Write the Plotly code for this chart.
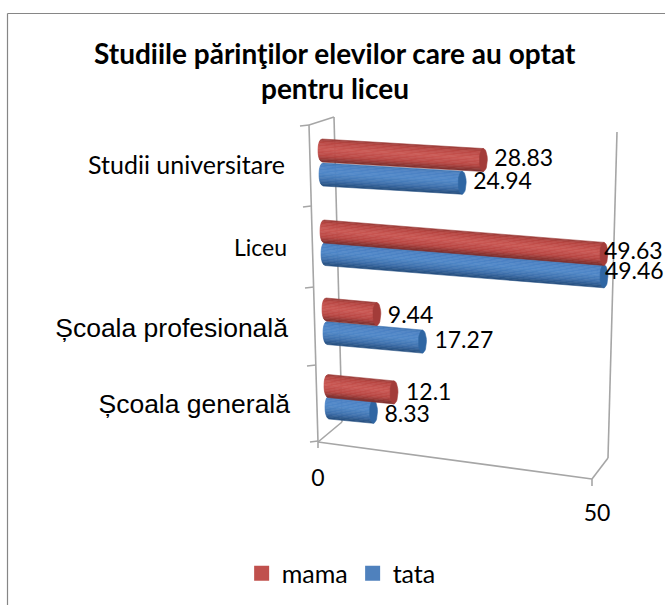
import math
import plotly.graph_objects as go

# --- data ---
categories = ["Studii universitare", "Liceu", "Școala profesională", "Școala generală"]
mama = [28.83, 49.63, 9.44, 12.1]
tata = [24.94, 49.46, 17.27, 8.33]
value_ticks = [0, 50]
title_lines = ["Studiile părinţilor elevilor care au optat", "pentru liceu"]

# --- perspective geometry (pixels of the picture) ---
W, H = 665, 605
X0, K = 318.0, 5.7             # pixel of value 0, pixels per value unit
FLOOR_K = 5.58                 # pixels per value unit along the tick labels
SLOPE = [0.059, 0.080, 0.090, 0.097]
START = {"mama": [318, 320, 322, 324], "tata": [319, 321, 323, 325]}
CY = {"mama": [150.5, 231.5, 309.5, 386.0], "tata": [174.5, 254.0, 333.0, 407.5]}
LABEL_DX = {"mama": [7, -4, 7, 8], "tata": [7, -3, 8, 7]}
LABEL_DY = {"mama": [0, -1, 2, 1], "tata": [0, -4, 0, 4]}
R, A = 11.5, 4.0               # cylinder half height, end-ellipse half width

# shading across the cylinder: position (-1 top .. 1 bottom) -> colour
SHADE = {
    "mama": [(-1, (150, 60, 56)), (-0.7, (184, 70, 66)), (-0.1, (202, 88, 84)),
             (0.5, (184, 70, 66)), (1, (122, 46, 44))],
    "tata": [(-1, (66, 118, 178)), (-0.7, (76, 130, 196)), (-0.1, (80, 136, 200)),
             (0.5, (62, 112, 172)), (1, (36, 76, 124))],
}
N_BANDS = 16
CAP = {"mama": "#a33c39", "tata": "#2f66a3"}
SWATCH = {"mama": "#c0504d", "tata": "#4f81bd"}
AXIS_COL, BORDER_COL = "#a6a6a6", "#868686"
CALIBRI, ARIAL = "Lato", "Liberation Sans"


def to_x(px):
    return (px - X0) / K


def shade(series, t):
    stops = SHADE[series]
    for (t0, c0), (t1, c1) in zip(stops, stops[1:]):
        if t <= t1:
            f = (t - t0) / (t1 - t0)
            return "rgb({},{},{})".format(*[round(a + (b - a) * f) for a, b in zip(c0, c1)])
    return "rgb({},{},{})".format(*stops[-1][1])


def band_polygons(values, series, t1, t2):
    xs, ys = [], []
    for i, v in enumerate(values):
        left = START[series][i] + A
        x_l, x_r = to_x(left), to_x(left) + v - 3 / K
        s = SLOPE[i] * K
        cy = CY[series][i]
        ts = [t1 + (t2 - t1) * j / 4 for j in range(5)]
        for t in ts:
            x = x_l - (A / K) * math.sqrt(max(0, 1 - t * t))
            xs.append(x)
            ys.append(cy + R * t + s * (x - x_l))
        for t in reversed(ts):
            xs.append(x_r)
            ys.append(cy + R * t + s * (x_r - x_l))
        xs.append(xs[-2 * len(ts)])
        ys.append(ys[-2 * len(ts)])
        xs.append(None)
        ys.append(None)
    return xs, ys


def cap_polygons(values, series):
    xs, ys = [], []
    for i, v in enumerate(values):
        left = START[series][i] + A
        x_l, x_r = to_x(left), to_x(left) + v - 3 / K
        s = SLOPE[i] * K
        cy = CY[series][i] + s * (x_r - x_l)
        for j in range(37):
            a = 2 * math.pi * j / 36
            xs.append(x_r + (A / K) * math.cos(a))
            ys.append(cy + R * math.sin(a))
        xs.append(None)
        ys.append(None)
    return xs, ys


def polyline(points):
    xs, ys = [], []
    for seg in points:
        for (px, py) in seg:
            xs.append(to_x(px))
            ys.append(py)
        xs.append(None)
        ys.append(None)
    return xs, ys


fig = go.Figure()

# walls, floor and ticks
axis_segments = [
    [(309, 125), (318, 442)],
    [(334, 117), (342, 422)],
    [(309, 125), (334, 117)],
    [(318, 442), (342, 422)],
    [(318, 442), (592, 479)],
    [(592, 479), (608, 458)],
    [(617, 132), (608, 458)],
    [(592, 479), (592, 486)],
    [(318, 442), (318, 448)],
    [(300, 126), (309, 125)],
    [(303, 207), (311, 206)],
    [(305, 288), (314, 287)],
    [(307, 366), (316, 365)],
    [(310, 442), (318, 441)],
]
ax, ay = polyline(axis_segments)
fig.add_trace(go.Scatter(x=ax, y=ay, mode="lines", hoverinfo="skip", showlegend=False,
                         line=dict(color=AXIS_COL, width=1.6)))

# cylinders: tata first, mama overlaps it
for series, values in (("tata", tata), ("mama", mama)):
    for b in range(N_BANDS):
        t1 = -1 + 2 * b / N_BANDS
        t2 = -1 + 2 * (b + 1) / N_BANDS
        col = shade(series, (t1 + t2) / 2)
        xs, ys = band_polygons(values, series, t1, t2)
        fig.add_trace(go.Scatter(x=xs, y=ys, mode="lines", fill="toself", fillcolor=col,
                                 line=dict(color=col, width=0.6), hoverinfo="skip", showlegend=False))
    xs, ys = cap_polygons(values, series)
    fig.add_trace(go.Scatter(x=xs, y=ys, mode="lines", fill="toself", fillcolor=CAP[series],
                             line=dict(color=CAP[series], width=0.6), hoverinfo="skip", showlegend=False))

# data labels
for series, values in (("mama", mama), ("tata", tata)):
    lx, ly, lt = [], [], []
    for i, v in enumerate(values):
        left = START[series][i]
        end_px = left + K * v + 5
        lx.append(to_x(end_px + LABEL_DX[series][i]))
        ly.append(CY[series][i] + SLOPE[i] * (end_px - left) + LABEL_DY[series][i])
        lt.append(str(v))
    fig.add_trace(go.Scatter(x=lx, y=ly, text=lt, mode="text", textposition="middle right",
                             textfont=dict(family=CALIBRI, size=23, color="#000000"),
                             hoverinfo="skip", showlegend=False, cliponaxis=False))

# category labels
label_x = [to_x(v) for v in (285, 287, 288, 290)]
label_y = [168, 250, 330, 406]
label_font = [CALIBRI, CALIBRI, ARIAL, ARIAL]
label_size = [25, 23, 26.5, 26.5]
for c, x, y, f, s in zip(categories, label_x, label_y, label_font, label_size):
    fig.add_trace(go.Scatter(x=[x], y=[y], text=[c], mode="text", textposition="middle left",
                             textfont=dict(family=f, size=s, color="#000000"),
                             hoverinfo="skip", showlegend=False))

# value-axis labels
fig.add_trace(go.Scatter(x=[t * FLOOR_K / K for t in value_ticks], y=[480, 515],
                         text=[str(t) for t in value_ticks], mode="text",
                         textposition="middle center",
                         textfont=dict(family=CALIBRI, size=23, color="#000000"),
                         hoverinfo="skip", showlegend=False))

# legend entries
for name, series in (("mama", "mama"), ("tata", "tata")):
    fig.add_trace(go.Scatter(x=[None], y=[None], name=name, mode="markers",
                             marker=dict(symbol="square", size=15, color=SWATCH[series])))

fig.update_layout(
    width=W, height=H, autosize=False,
    margin=dict(l=0, r=0, t=0, b=0),
    paper_bgcolor="white", plot_bgcolor="white",
    xaxis=dict(range=[to_x(0), to_x(W)], visible=False, fixedrange=True),
    yaxis=dict(range=[H, 0], visible=False, fixedrange=True),
    legend=dict(orientation="h", x=0.513, xanchor="center", y=0.052, yanchor="middle",
                traceorder="normal", font=dict(family=CALIBRI, size=25, color="#000000"),
                itemwidth=30, bgcolor="rgba(0,0,0,0)"),
    shapes=[
        dict(type="line", xref="paper", yref="paper", x0=7.5 / W, x1=1, y0=1 - 13.5 / H, y1=1 - 13.5 / H,
             line=dict(color=BORDER_COL, width=1.2)),
        dict(type="line", xref="paper", yref="paper", x0=7.5 / W, x1=7.5 / W, y0=0, y1=1 - 13.5 / H,
             line=dict(color=BORDER_COL, width=1.2)),
    ],
    annotations=[
        dict(text=f"<b>{line}</b>", x=335 / W, y=1 - y / H, xref="paper", yref="paper", showarrow=False,
             xanchor="center", yanchor="middle", font=dict(family=CALIBRI, size=28, color="#000000"))
        for line, y in zip(title_lines, (53, 88))
    ],
)

fig.write_html("out.html", config=dict(displayModeBar=False),
               post_script="document.body.style.margin='0';document.body.style.overflow='hidden';")
